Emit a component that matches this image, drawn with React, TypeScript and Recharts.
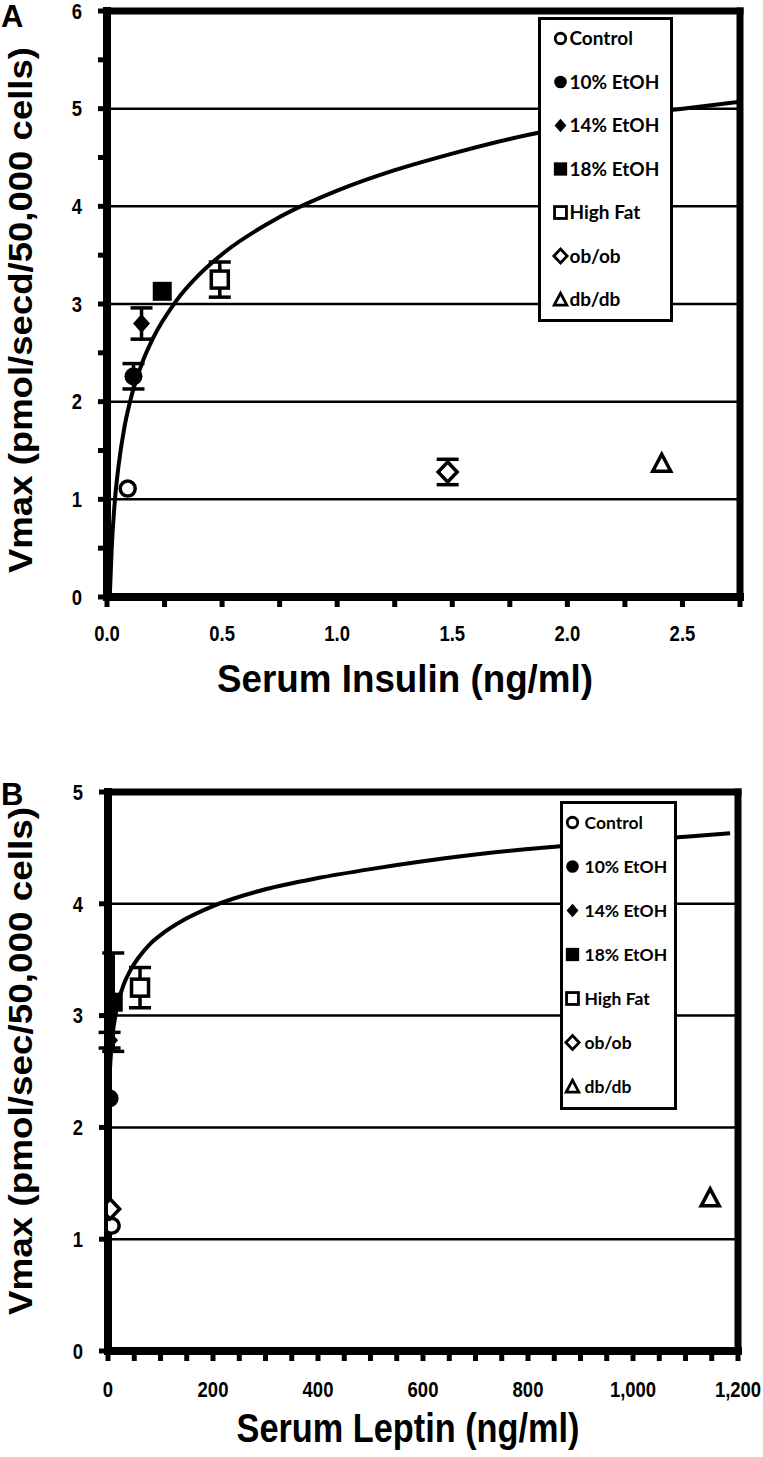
import React from 'react';
import {
  ComposedChart,
  Scatter,
  Line,
  XAxis,
  YAxis,
  ErrorBar,
  ReferenceLine,
  Legend,
  Label,
} from 'recharts';

// ---------- data ----------
const seriesNames = ['Control', '10% EtOH', '14% EtOH', '18% EtOH', 'High Fat', 'ob/ob', 'db/db'];

const insulin = [0.09, 0.115, 0.15, 0.24, 0.49, 1.48, 2.41];
const vmaxInsulin = [1.11, 2.26, 2.8, 3.13, 3.25, 1.28, 1.37];
const errInsulin = [0, 0.13, 0.16, 0, 0.18, 0.13, 0];

const leptin = [7, 3, 3, 10, 61, 4, 1147];
const vmaxLeptin = [1.12, 2.26, 2.78, 3.12, 3.25, 1.27, 1.37];
const errLeptin = [0, 0, 0.07, 0.44, 0.18, 0, 0];

const insulinFitX = [0.012, 0.02, 0.035, 0.05, 0.075, 0.1, 0.15, 0.2, 0.3, 0.4, 0.5, 0.75, 1.0, 1.25, 1.5, 1.75, 2.0, 2.25, 2.5, 2.75];
const insulinFitY = [0.0, 0.48, 1.01, 1.34, 1.73, 2.0, 2.38, 2.65, 3.03, 3.3, 3.51, 3.89, 4.16, 4.37, 4.54, 4.69, 4.81, 4.92, 5.0, 5.07];

const leptinFitX = [2, 3, 5, 8, 13, 20, 30, 42, 60, 80, 100, 150, 200, 300, 400, 500, 600, 700, 800, 900, 1000, 1100, 1185];
const leptinFitY = [2.29, 2.44, 2.62, 2.8, 2.97, 3.13, 3.28, 3.4, 3.53, 3.64, 3.72, 3.87, 3.98, 4.13, 4.23, 4.31, 4.38, 4.44, 4.49, 4.53, 4.57, 4.6, 4.63];

const insulinXTicks = [0, 0.25, 0.5, 0.75, 1.0, 1.25, 1.5, 1.75, 2.0, 2.25, 2.5, 2.75];
const insulinYTicks = [0, 0.5, 1, 1.5, 2, 2.5, 3, 3.5, 4, 4.5, 5, 5.5, 6];
const insulinGrid = [1, 2, 3, 4, 5];

const leptinXTicks = [0, 50, 100, 150, 200, 250, 300, 350, 400, 450, 500, 550, 600, 650, 700, 750, 800, 850, 900, 950, 1000, 1050, 1100, 1150, 1200];
const leptinYTicks = [0, 1, 2, 3, 4, 5];
const leptinGrid = [1, 2, 3, 4];

const markerKinds = ['openCircle', 'filledCircle', 'filledDiamond', 'filledSquare', 'openSquare', 'openDiamond', 'openTriangle'];

// ---------- helpers ----------
const FONT = '"Liberation Sans", Arial, sans-serif';

function Marker({ kind, cx, cy, s = 1, sw = 3.5 }: { kind: string; cx: number; cy: number; s?: number; sw?: number }) {
  switch (kind) {
    case 'openCircle':
      return <circle cx={cx} cy={cy} r={7.5 * s} fill="#fff" stroke="#000" strokeWidth={sw} />;
    case 'filledCircle':
      return <circle cx={cx} cy={cy} r={9 * s} fill="#000" />;
    case 'filledDiamond': {
      const w = 8.5 * s, h = 9.5 * s;
      return <path d={`M${cx},${cy - h}L${cx + w},${cy}L${cx},${cy + h}L${cx - w},${cy}Z`} fill="#000" />;
    }
    case 'filledSquare': {
      const h = 9.5 * s;
      return <rect x={cx - h} y={cy - h} width={2 * h} height={2 * h} fill="#000" />;
    }
    case 'openSquare': {
      const h = 8.5 * s;
      return <rect x={cx - h} y={cy - h} width={2 * h} height={2 * h} fill="#fff" stroke="#000" strokeWidth={sw} />;
    }
    case 'openDiamond': {
      const w = 9.5 * s, h = 10 * s;
      return <path d={`M${cx},${cy - h}L${cx + w},${cy}L${cx},${cy + h}L${cx - w},${cy}Z`} fill="#fff" stroke="#000" strokeWidth={sw} />;
    }
    case 'openTriangle': {
      const w = 9 * s, t = 9 * s, b = 8 * s;
      return <path d={`M${cx},${cy - t}L${cx + w},${cy + b}L${cx - w},${cy + b}Z`} fill="#fff" stroke="#000" strokeWidth={sw} strokeLinejoin="miter" />;
    }
    default:
      return null;
  }
}

function makeXTick(fmt: (v: number) => string, dy: number) {
  return (props: any) => {
    const { x, y, payload } = props;
    const label = fmt(payload.value);
    if (!label) return <g />;
    return (
      <g transform={`translate(${x},${y + dy}) scale(0.84,1)`}>
        <text x={0} y={0} textAnchor="middle" fontFamily={FONT} fontWeight="bold" fontSize={22} fill="#000">
          {label}
        </text>
      </g>
    );
  };
}

function makeYTick(fmt: (v: number) => string, dx: number) {
  return (props: any) => {
    const { x, y, payload } = props;
    const label = fmt(payload.value);
    if (!label) return <g />;
    return (
      <g transform={`translate(${x + dx},${y + 7.8}) scale(0.84,1)`}>
        <text x={0} y={0} textAnchor="end" fontFamily={FONT} fontWeight="bold" fontSize={22} fill="#000">
          {label}
        </text>
      </g>
    );
  };
}

function LegendBox({ width, height, first, step, mx, tx, fs }: { width: number; height: number; first: number; step: number; mx: number; tx: number; fs: number }) {
  return (
    <div style={{ width, height, boxSizing: 'border-box', border: '3.5px solid #000', background: '#fff' }}>
      <svg width={width - 7} height={height - 7} style={{ display: 'block' }}>
        {seriesNames.map((n, i) => {
          const cy = first + i * step - 3.5;
          return (
            <g key={n}>
              <Marker kind={markerKinds[i]} cx={mx - 3.5} cy={cy} s={0.7} sw={2.8} />
              <text x={tx - 3.5} y={cy + 6.6} fontFamily="Lato, sans-serif" fontWeight="bold" fontSize={fs} fill="#000">
                {n}
              </text>
            </g>
          );
        })}
      </svg>
    </div>
  );
}

const axisLineStyle = { stroke: '#000', strokeWidth: 8, strokeLinecap: 'square' as const };
const tickLineStyle = { stroke: '#000', strokeWidth: 5 };

function Panel(props: {
  height: number;
  margin: { top: number; right: number; left: number; bottom: number };
  xs: number[]; ys: number[]; errs: number[];
  fitX: number[]; fitY: number[];
  xDomain: [number, number]; yDomain: [number, number];
  xTicks: number[]; yTicks: number[]; grid: number[];
  xFmt: (v: number) => string; yFmt: (v: number) => string;
  xDy: number;
  letter: string; letterY: number;
  yTitle: string; yTitleCy: number; yTitleLen: number;
  xTitle: string; xTitleCx: number; xTitleY: number; xTitleLen: number; xTitleSize: number;
  legendPos: { left: number; top: number; width: number; height: number; first: number; step: number; mx: number; tx: number; fs: number };
}) {
  const fit = props.fitX.map((x, i) => ({ x, y: props.fitY[i] }));
  const lp = props.legendPos;
  return (
    <ComposedChart width={763} height={props.height} margin={props.margin}>
      <XAxis
        type="number"
        dataKey="x"
        domain={props.xDomain}
        ticks={props.xTicks}
        interval={0}
        allowDataOverflow
        height={60}
        tickSize={10}
        tickMargin={0}
        axisLine={axisLineStyle}
        tickLine={tickLineStyle}
        tick={makeXTick(props.xFmt, props.xDy)}
      >
        <Label
          content={() => (
            <text
              x={props.xTitleCx}
              y={props.xTitleY}
              textAnchor="middle"
              fontFamily={FONT}
              fontWeight="bold"
              fontSize={props.xTitleSize}
              fill="#000"
              textLength={props.xTitleLen}
              lengthAdjust="spacingAndGlyphs"
            >
              {props.xTitle}
            </text>
          )}
        />
      </XAxis>
      <YAxis
        type="number"
        dataKey="y"
        domain={props.yDomain}
        ticks={props.yTicks}
        interval={0}
        allowDataOverflow
        width={60}
        tickSize={9}
        tickMargin={0}
        axisLine={axisLineStyle}
        tickLine={tickLineStyle}
        tick={makeYTick(props.yFmt, -16)}
      >
        <Label
          content={() => (
            <g>
              <text x={1} y={props.letterY} fontFamily={FONT} fontWeight="bold" fontSize={31} fill="#000">
                {props.letter}
              </text>
              <text
                transform={`translate(32,${props.yTitleCy}) rotate(-90)`}
                textAnchor="middle"
                fontFamily={FONT}
                fontWeight="bold"
                fontSize={34}
                fill="#000"
                textLength={props.yTitleLen}
                lengthAdjust="spacingAndGlyphs"
              >
                {props.yTitle}
              </text>
            </g>
          )}
        />
      </YAxis>
      {props.grid.map((g) => (
        <ReferenceLine key={`g${g}`} y={g} stroke="#000" strokeWidth={2.5} />
      ))}
      <ReferenceLine y={props.yDomain[1]} stroke="#000" strokeWidth={7} strokeLinecap="square" />
      <ReferenceLine x={props.xDomain[1]} stroke="#000" strokeWidth={7} strokeLinecap="square" />
      <Line
        data={fit}
        dataKey="y"
        type="monotone"
        dot={false}
        activeDot={false}
        stroke="#000"
        strokeWidth={4}
        isAnimationActive={false}
        legendType="none"
      />
      {seriesNames.map((name, i) => (
        <Scatter
          key={name}
          name={name}
          data={[{ x: props.xs[i], y: props.ys[i], err: props.errs[i] }]}
          dataKey="y"
          isAnimationActive={false}
          shape={(p: any) => <Marker kind={markerKinds[i]} cx={p.cx} cy={p.cy} />}
        >
          {props.errs[i] > 0 ? (
            <ErrorBar dataKey="err" direction="y" width={11} stroke="#000" strokeWidth={3.5} />
          ) : null}
        </Scatter>
      ))}
      <Legend
        layout="vertical"
        align="center"
        verticalAlign="middle"
        wrapperStyle={{ left: lp.left, top: lp.top, width: lp.width, height: lp.height }}
        content={() => (
          <LegendBox width={lp.width} height={lp.height} first={lp.first} step={lp.step} mx={lp.mx} tx={lp.tx} fs={lp.fs} />
        )}
      />
    </ComposedChart>
  );
}

export default function App() {
  return (
    <div style={{ position: 'absolute', left: 0, top: 0, width: 763, height: 1457, background: '#fff' }}>
      <div style={{ position: 'absolute', left: 0, top: 0 }}>
        <Panel
          height={720}
          margin={{ top: 11, right: 23, left: 47, bottom: 63 }}
          xs={insulin}
          ys={vmaxInsulin}
          errs={errInsulin}
          fitX={insulinFitX}
          fitY={insulinFitY}
          xDomain={[0, 2.75]}
          yDomain={[0, 6]}
          xTicks={insulinXTicks}
          yTicks={insulinYTicks}
          grid={insulinGrid}
          xFmt={(v) => (Math.abs((v / 0.5) - Math.round(v / 0.5)) < 1e-9 ? v.toFixed(1) : '')}
          yFmt={(v) => (Number.isInteger(v) ? String(v) : '')}
          xDy={34}
          letter="A"
          letterY={27}
          yTitle="Vmax (pmol/secd/50,000 cells)"
          yTitleCy={310}
          yTitleLen={526}
          xTitle="Serum Insulin (ng/ml)"
          xTitleCx={405}
          xTitleY={692}
          xTitleLen={376}
          xTitleSize={38}
          legendPos={{ left: 538, top: 17, width: 135, height: 305, first: 22, step: 43.5, mx: 23, tx: 32, fs: 19 }}
        />
      </div>
      <div style={{ position: 'absolute', left: 0, top: 740 }}>
        <Panel
          height={717}
          margin={{ top: 52, right: 25, left: 48, bottom: 46 }}
          xs={leptin}
          ys={vmaxLeptin}
          errs={errLeptin}
          fitX={leptinFitX}
          fitY={leptinFitY}
          xDomain={[0, 1200]}
          yDomain={[0, 5]}
          xTicks={leptinXTicks}
          yTicks={leptinYTicks}
          grid={leptinGrid}
          xFmt={(v) => (v % 200 === 0 ? v.toLocaleString('en-US') : '')}
          yFmt={(v) => String(v)}
          xDy={36}
          letter="B"
          letterY={65}
          yTitle="Vmax (pmol/sec/50,000 cells)"
          yTitleCy={321}
          yTitleLen={508}
          xTitle="Serum Leptin  (ng/ml)"
          xTitleCx={408}
          xTitleY={702}
          xTitleLen={343}
          xTitleSize={40}
          legendPos={{ left: 560, top: 61, width: 117, height: 309, first: 22, step: 44, mx: 13, tx: 25, fs: 17.5 }}
        />
      </div>
    </div>
  );
}
